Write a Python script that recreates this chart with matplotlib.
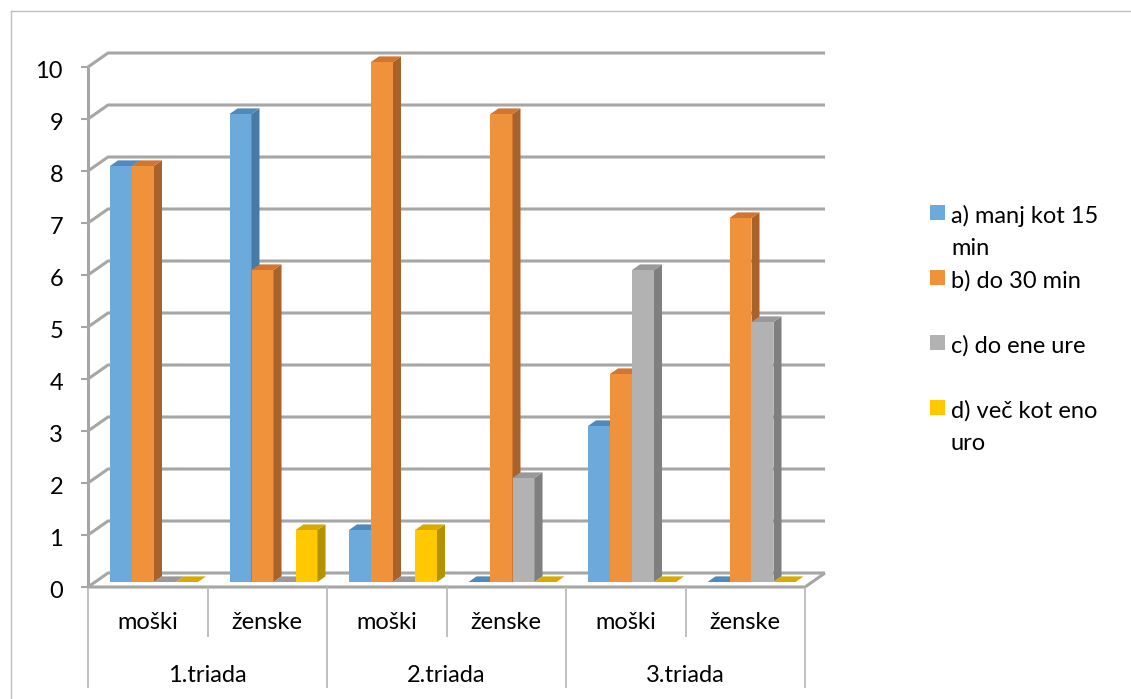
import matplotlib
matplotlib.use("Agg")
import matplotlib.pyplot as plt
import matplotlib.transforms as mtransforms
from matplotlib.patches import Polygon, Rectangle
from matplotlib.lines import Line2D

# ---------------- data ----------------
groups = ["1.triada", "2.triada", "3.triada"]
subgroups = ["moški", "ženske"]
categories = ["moški", "ženske", "moški", "ženske", "moški", "ženske"]
series_labels = ["a) manj kot 15\nmin", "b) do 30 min", "c) do ene ure", "d) več kot eno\nuro"]
s_a = [8, 9, 1, 0, 3, 0]
s_b = [8, 6, 10, 9, 4, 7]
s_c = [0, 0, 0, 2, 6, 5]
s_d = [0, 1, 1, 0, 0, 0]
series = [s_a, s_b, s_c, s_d]
y_ticks = list(range(0, 11))

# ---------------- style ----------------
front_cols = ["#6BAADB", "#F0913C", "#B2B2B2", "#FFC800"]
top_cols = ["#5089BC", "#D27530", "#999999", "#D8A900"]
side_cols = ["#467BA6", "#A8622A", "#7F7F7F", "#B39200"]
grid_col = "#A6A6A6"
tbl_col = "#BBBBBB"
FONT = ["Lato", "DejaVu Sans"]
FS = 17

W, H, DPI = 1131, 699, 100
plt.rcParams["font.family"] = FONT
fig = plt.figure(figsize=(W / DPI, H / DPI), dpi=DPI)

# front plane: x 88..805 px, y(0)=587 px, y(10)=67 px
x0p, x1p, y0p, y1p = 88, 805, 587, 67
ax = fig.add_axes([x0p / W, 1 - y0p / H, (x1p - x0p) / W, (y0p - y1p) / H])
ax.set_xlim(0, len(categories))
ax.set_ylim(0, 10)
ax.axis("off")

ID = mtransforms.IdentityTransform()
DX, DY = 20, 14        # floor / wall depth (px)
BDX, BDY = 8, 5.6      # bar depth (px)
BOX, BOY = 0, 5        # bar front face offset (px)
gw = (x1p - x0p) / len(categories)
bw = 22 / gw           # bar width in data units
b0 = 22 / gw           # first bar offset in group


def d(x, y, ox=0, oy=0):
    p = ax.transData.transform((x, y))
    return (p[0] + ox, p[1] + oy)


def poly(pts, color, z, lw=0, ec="none"):
    ax.add_patch(Polygon(pts, closed=True, facecolor=color, edgecolor=ec,
                         linewidth=lw, transform=ID, clip_on=False, zorder=z))


def line(pts, color, lw, z):
    xs = [p[0] for p in pts]
    ys = [p[1] for p in pts]
    ax.add_line(Line2D(xs, ys, color=color, linewidth=lw, transform=ID,
                       clip_on=False, zorder=z, solid_capstyle="butt"))


n = len(categories)
# floor
poly([d(0, 0), d(n, 0), d(n, 0, DX, DY), d(0, 0, DX, DY)], "white", 1)
# back wall gridlines + left wall diagonals
for t in y_ticks:
    line([d(0, t), d(0, t, DX, DY), d(n, t, DX, DY)], grid_col, 2.2, 2)
# floor front edge and right diagonal
line([d(0, 0), d(n, 0), d(n, 0, DX, DY)], grid_col, 2.2, 2)
# front vertical axis
line([d(0, 0), d(0, 10)], grid_col, 2.2, 3)
for t in y_ticks:
    line([d(0, t, -7, 0), d(0, t)], grid_col, 1.5, 3)
    p = d(0, t, -25, -11)
    ax.text(p[0], p[1], str(t), transform=ID, ha="right", va="baseline",
            fontsize=FS, color="black")

# bars
z = 10
for i in range(n):
    for k, s in enumerate(series):
        v = s[i]
        L = i + b0 + k * bw
        R = L + bw
        o = (BOX, BOY)
        if v > 0:
            poly([d(L, 0, *o), d(R, 0, *o), d(R, v, *o), d(L, v, *o)], front_cols[k], z)
            poly([d(R, 0, *o), d(R, 0, o[0] + BDX, o[1] + BDY),
                  d(R, v, o[0] + BDX, o[1] + BDY), d(R, v, *o)], side_cols[k], z)
        poly([d(L, v, *o), d(R, v, *o), d(R, v, o[0] + BDX, o[1] + BDY),
              d(L, v, o[0] + BDX, o[1] + BDY)], top_cols[k], z)
        z += 1

# category table below
for i in range(n + 1):
    depth = 101 if i % 2 == 0 else 50
    p0 = d(i, 0)
    line([p0, (p0[0], p0[1] - depth)], tbl_col, 1.3, 2)
for i, c in enumerate(categories):
    p = d(i + 0.5, 0, 0, -42)
    ax.text(p[0], p[1], c, transform=ID, ha="center", va="baseline",
            fontsize=FS, color="black")
for g, name in enumerate(groups):
    p = d(2 * g + 1, 0, 0, -95)
    ax.text(p[0], p[1], name, transform=ID, ha="center", va="baseline",
            fontsize=FS, color="black")

# legend
leg_y = [212.5, 277.5, 342.5, 407.5]
for k, lab in enumerate(series_labels):
    yc = leg_y[k]
    fig.add_artist(Rectangle((930 / W, 1 - (yc + 7.5) / H), 15 / W, 15 / H,
                             transform=fig.transFigure, facecolor=front_cols[k],
                             edgecolor="none"))
    for j, part in enumerate(lab.split("\n")):
        fig.text(951 / W, 1 - (yc + 10.5 + 32 * j) / H, part, ha="left", va="baseline",
                 fontsize=FS, color="black")

# chart border
fig.add_artist(Line2D([11 / W, 11 / W], [0, 1 - 10.5 / H], transform=fig.transFigure,
                      color="#BFBFBF", linewidth=1.0))
fig.add_artist(Line2D([11 / W, 1], [1 - 10.5 / H, 1 - 10.5 / H], transform=fig.transFigure,
                      color="#BFBFBF", linewidth=1.0))

fig.savefig("out.png", dpi=DPI, facecolor="white")
